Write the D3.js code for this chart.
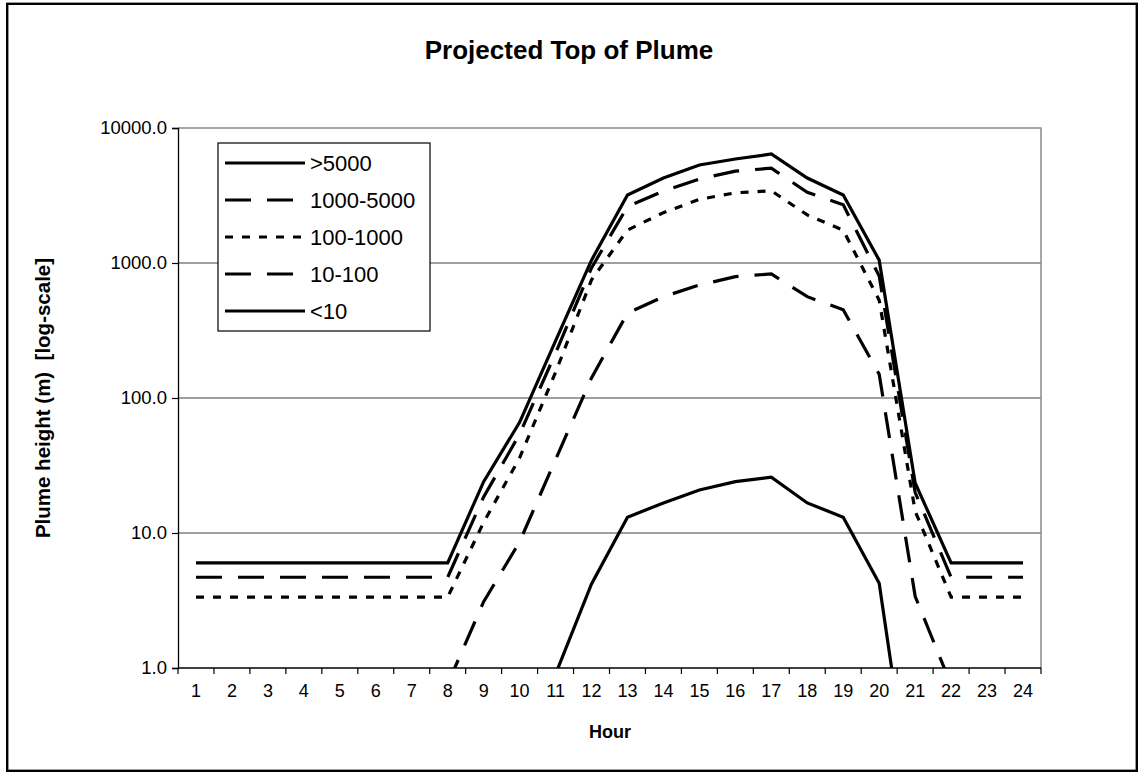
<!DOCTYPE html>
<html>
<head>
<meta charset="utf-8">
<script src="https://cdn.jsdelivr.net/npm/d3@7"></script>
<style>
  html, body { margin: 0; padding: 0; background: #fff; }
  svg { display: block; font-family: Arial, "Liberation Sans", sans-serif; }
</style>
</head>
<body>
<svg id="chart" width="1138" height="774"></svg>
<script>
// ---- data ----
const hours = ["1","2","3","4","5","6","7","8","9","10","11","12","13","14","15","16","17","18","19","20","21","22","23","24"];
const seriesNames = [">5000", "1000-5000", "100-1000", "10-100", "<10"];
const valsOver5000 = [6,6,6,6,6,6,6,6, 24, 66, 265, 1050, 3190, 4260, 5320, 5890, 6420, 4260, 3190, 1050, 23.5, 6, 6, 6];
const vals1000to5000 = [4.7,4.7,4.7,4.7,4.7,4.7,4.7,4.7, 18.5, 54, 215, 920, 2620, 3410, 4190, 4790, 5040, 3340, 2700, 800, 20, 4.7, 4.7, 4.7];
const vals100to1000 = [3.35,3.35,3.35,3.35,3.35,3.35,3.35,3.35, 12, 36, 155, 750, 1755, 2360, 2960, 3310, 3430, 2270, 1750, 530, 14.5, 3.35, 3.35, 3.35];
const vals10to100 = [0.76,0.76,0.76,0.76,0.76,0.76,0.76,0.76, 3.1, 8.6, 35, 141, 425, 563, 687, 792, 830, 563, 450, 150, 3.4, 0.75, 0.75, 0.75];
const valsUnder10 = [0.05,0.05,0.05,0.05,0.05,0.05,0.05,0.05,0.05, 0.2, 0.9, 4.19, 13.1, 16.7, 20.8, 24, 25.9, 16.7, 13.1, 4.24, 0.065, 0.05, 0.05, 0.05];
const yTickValues = [1, 10, 100, 1000, 10000];
const titleText = "Projected Top of Plume";
const xTitle = "Hour";
const yTitle = "Plume height (m)\u00A0\u00A0[log-scale]";

const seriesValues = [valsOver5000, vals1000to5000, vals100to1000, vals10to100, valsUnder10];
const dashes = [null, "26,16", "8,9", "26,16", null];

// ---- layout ----
const svg = d3.select("#chart");
const X0 = 178, X1 = 1041, Y0 = 128, Y1 = 668;

const x = d3.scaleBand().domain(hours).range([X0, X1]).padding(0);
const y = d3.scaleLog().domain([1, 10000]).range([Y1, Y0]);

// outer frame
svg.append("rect").attr("x", 7.2).attr("y", 3.8).attr("width", 1129.6).attr("height", 767)
  .attr("fill", "#fff").attr("stroke", "#000").attr("stroke-width", 2.4);

// title
svg.append("text").attr("x", 569).attr("y", 59).attr("text-anchor", "middle")
  .attr("font-size", 26).attr("font-weight", "bold").text(titleText);

// gridlines
svg.append("g").selectAll("line").data(yTickValues.filter(v => v > 1 && v < 10000)).join("line")
  .attr("x1", X0).attr("x2", X1).attr("y1", d => y(d)).attr("y2", d => y(d))
  .attr("stroke", "#404040").attr("stroke-width", 1.2);

// plot frame top / right (gray)
svg.append("path").attr("d", `M${X0},${Y0}H${X1}V${Y1}`).attr("fill", "none")
  .attr("stroke", "#8a8a8a").attr("stroke-width", 1.5);

// y axis
const yAxis = d3.axisLeft(y).tickValues(yTickValues).tickFormat(d3.format(".1f")).tickSizeOuter(0).tickSize(6).tickPadding(5);
const gy = svg.append("g").attr("transform", `translate(${X0},0)`).call(yAxis);
gy.select(".domain").attr("stroke", "#000").attr("stroke-width", 1.3);
gy.selectAll(".tick line").attr("stroke", "#000").attr("stroke-width", 1.2);
gy.selectAll(".tick text").attr("font-size", 18.5).attr("font-family", "Arial, 'Liberation Sans', sans-serif").attr("fill", "#000");

// x axis: ticks at band boundaries, labels at band centres
const gx = svg.append("g").attr("transform", `translate(0,${Y1})`);
gx.append("line").attr("x1", X0).attr("x2", X1).attr("stroke", "#000").attr("stroke-width", 1.3);
const boundaries = hours.map(h => x(h)).concat([X1]);
gx.selectAll("line.tk").data(boundaries).join("line").attr("class", "tk")
  .attr("x1", d => d).attr("x2", d => d).attr("y1", 0).attr("y2", 6)
  .attr("stroke", "#000").attr("stroke-width", 1.2);
gx.selectAll("text").data(hours).join("text")
  .attr("x", d => x(d) + x.bandwidth() / 2).attr("y", 29)
  .attr("text-anchor", "middle").attr("font-size", 18).text(d => d);

// axis titles
svg.append("text").attr("x", 610).attr("y", 738).attr("text-anchor", "middle")
  .attr("font-size", 18).attr("font-weight", "bold").text(xTitle);
svg.append("text").attr("transform", `translate(50,${(Y0 + Y1) / 2}) rotate(-90)`)
  .attr("text-anchor", "middle").attr("font-size", 20.5).attr("font-weight", "bold").text(yTitle);

// clip
svg.append("clipPath").attr("id", "plotclip").append("rect")
  .attr("x", X0).attr("y", Y0 - 2).attr("width", X1 - X0).attr("height", Y1 - Y0 + 2);

const line = d3.line()
  .x((d, i) => x(hours[i]) + x.bandwidth() / 2)
  .y(d => y(d));

const gl = svg.append("g").attr("clip-path", "url(#plotclip)");
seriesValues.forEach((vals, k) => {
  gl.append("path").datum(vals).attr("d", line)
    .attr("fill", "none").attr("stroke", "#000").attr("stroke-width", 3.2)
    .attr("stroke-linejoin", "miter").attr("stroke-dasharray", dashes[k]);
});

// legend
const LX = 218, LY = 143, LW = 212, rowH = 37, firstRow = 163;
svg.append("rect").attr("x", LX).attr("y", LY).attr("width", LW).attr("height", firstRow - LY + rowH * 4 + 20)
  .attr("fill", "#fff").attr("stroke", "#000").attr("stroke-width", 1.2);
seriesNames.forEach((name, k) => {
  const cy = firstRow + k * rowH;
  svg.append("line").attr("x1", 225).attr("x2", 305).attr("y1", cy).attr("y2", cy)
    .attr("stroke", "#000").attr("stroke-width", 3.2).attr("stroke-dasharray", dashes[k]);
  svg.append("text").attr("x", 310).attr("y", cy + 8).attr("font-size", 22).text(name);
});
</script>
</body>
</html>
